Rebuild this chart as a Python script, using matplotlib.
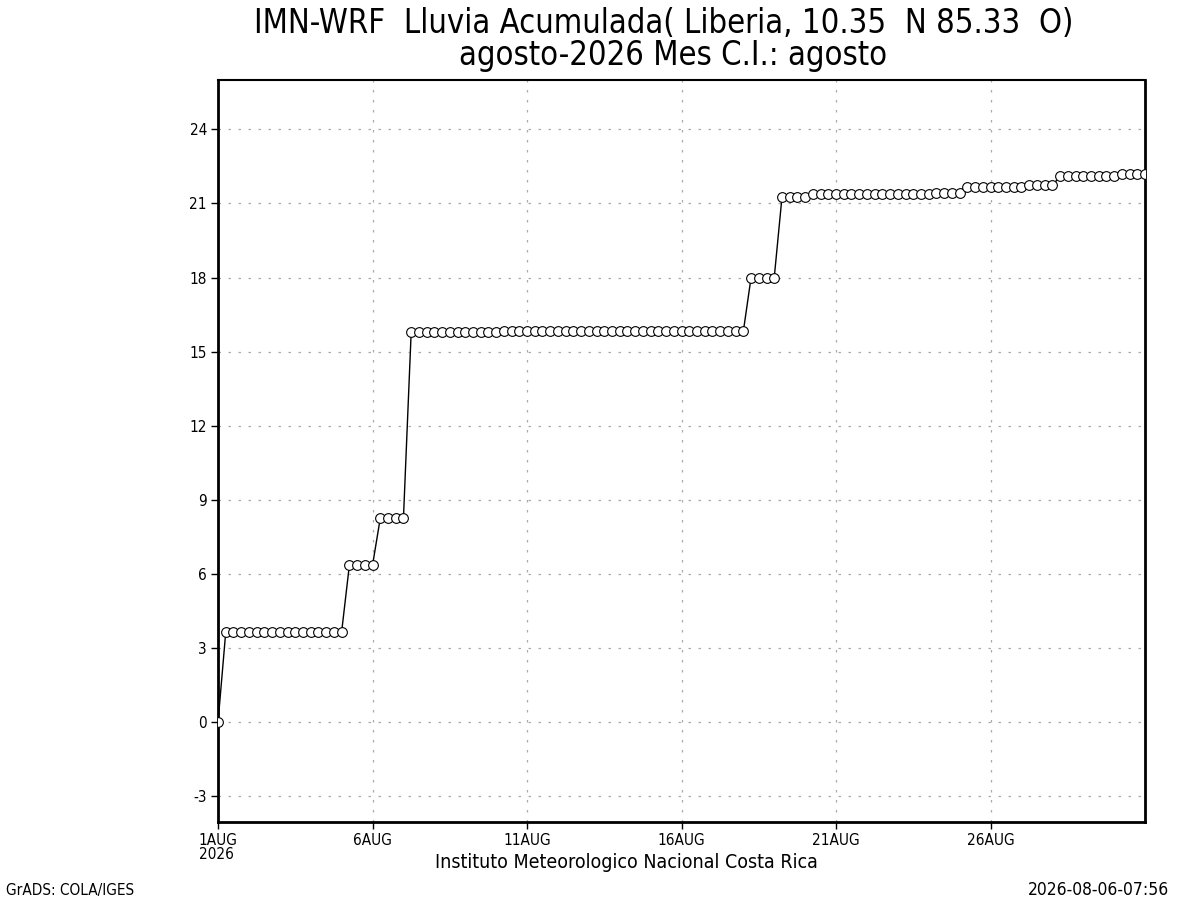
import matplotlib
matplotlib.use("Agg")
import matplotlib.pyplot as plt

# 6-hourly accumulated rain (mm), 1 AUG 00Z .. 31 AUG 00Z
rain = [
    0.0,
    3.65, 3.65, 3.65, 3.65,
    3.65, 3.65, 3.65, 3.65,
    3.65, 3.65, 3.65, 3.65,
    3.65, 3.65, 3.65, 3.65,
    6.35, 6.35, 6.35, 6.35,
    8.25, 8.25, 8.25, 8.25,
    15.78, 15.78, 15.78, 15.78,
    15.78, 15.78, 15.78, 15.78,
    15.78, 15.78, 15.78, 15.78,
    15.82, 15.82, 15.82, 15.82,
    15.82, 15.82, 15.82, 15.82,
    15.82, 15.82, 15.82, 15.82,
    15.82, 15.82, 15.82, 15.82,
    15.82, 15.82, 15.82, 15.82,
    15.82, 15.82, 15.82, 15.82,
    15.82, 15.82, 15.82, 15.82,
    15.82, 15.82, 15.82, 15.82,
    18.0, 18.0, 18.0, 18.0,
    21.25, 21.25, 21.25, 21.25,
    21.39, 21.39, 21.39, 21.39,
    21.39, 21.39, 21.39, 21.39,
    21.39, 21.39, 21.39, 21.39,
    21.39, 21.39, 21.39, 21.39,
    21.43, 21.43, 21.43, 21.43,
    21.65, 21.65, 21.65, 21.65,
    21.65, 21.65, 21.65, 21.65,
    21.73, 21.73, 21.73, 21.73,
    22.1, 22.1, 22.1, 22.1,
    22.1, 22.1, 22.1, 22.1,
    22.2, 22.2, 22.2, 22.2,
]
# time in days of the month (1 = 1AUG 00Z), 4 steps per day
day = [1 + i / 4 for i in range(len(rain))]

xticks = [1, 6, 11, 16, 21, 26]
xlabels = ["1AUG\n2026", "6AUG", "11AUG", "16AUG", "21AUG", "26AUG"]
yticks = [-3, 0, 3, 6, 9, 12, 15, 18, 21, 24]

plt.rcParams["font.family"] = ["DejaVu Sans"]
plt.rcParams["font.stretch"] = "condensed"

fig = plt.figure(figsize=(12, 9), dpi=100)
ax = fig.add_axes([0.1817, 0.0867, 0.7725, 0.8244])

ax.plot(day, rain, color="black", lw=1.0, marker="o", ms=7.0,
        mfc="white", mec="black", mew=0.8, zorder=3)

ax.set_xlim(1, 31)
ax.set_ylim(-4.05, 26.0)
ax.set_xticks(xticks)
ax.set_xticklabels(xlabels, fontsize=11, linespacing=0.95)
ax.set_yticks(yticks)
ax.set_yticklabels([str(v) for v in yticks], fontsize=11)
for lbl in ax.get_xticklabels():
    lbl.set_multialignment("left")

ax.tick_params(axis="both", direction="out", length=5, width=1.0, pad=3)
ax.grid(True, color="#aaaaaa", lw=0.9, linestyle=(0, (2, 6)))
ax.set_axisbelow(True)
for s in ax.spines.values():
    s.set_linewidth(2.0)
ax.spines["top"].set_linewidth(1.5)

fig.text(0.553, 0.963, "IMN-WRF  Lluvia Acumulada( Liberia, 10.35  N 85.33  O)",
         ha="center", va="baseline", fontsize=23.5)
fig.text(0.561, 0.928, "agosto-2026 Mes C.I.: agosto",
         ha="center", va="baseline", fontsize=23.5)
fig.text(0.522, 0.036, "Instituto Meteorologico Nacional Costa Rica",
         ha="center", va="baseline", fontsize=14)
fig.text(0.005, 0.006, "GrADS: COLA/IGES", ha="left", va="baseline", fontsize=11)
fig.text(0.974, 0.006, "2026-08-06-07:56", ha="right", va="baseline", fontsize=12.5)

fig.savefig("out.png", dpi=100)
